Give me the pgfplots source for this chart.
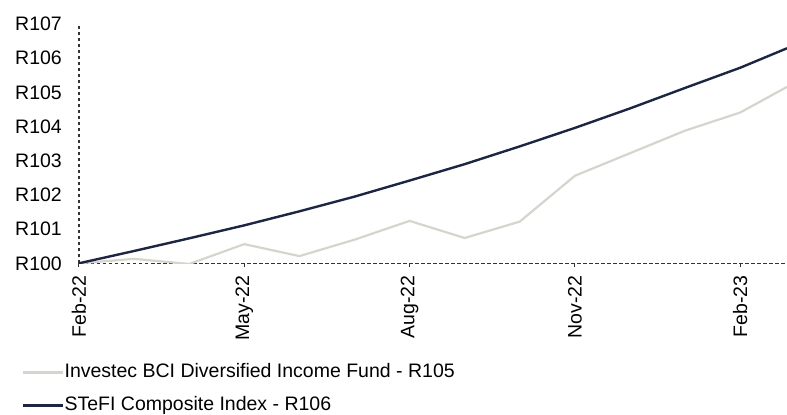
\documentclass[border=0pt]{standalone}
\usepackage{fontspec}
\setmainfont{Liberation Sans}
\usepackage{pgfplots}
\pgfplotsset{compat=1.18}
\definecolor{navy}{HTML}{1C2642}
\definecolor{lgray}{HTML}{D5D5CD}
\definecolor{axgray}{HTML}{333333}
\begin{document}
\begin{tikzpicture}
\begin{axis}[name=ax, scale only axis, width=708pt, height=239.3pt,
  xmin=0, xmax=12.85, ymin=100, ymax=107,
  axis lines*=left,
  axis line style={axgray, line width=1.3pt, dash pattern=on 3.5pt off 2.5pt},
  xtick={0,3,6,9,12}, xticklabels={Feb-22,May-22,Aug-22,Nov-22,Feb-23},
  ytick={100,101,102,103,104,105,106,107},
  yticklabels={R100,R101,R102,R103,R104,R105,R106,R107},
  tick align=outside, major tick length=4pt,
  xtick style={axgray, line width=1pt},
  ytick style={draw=none},
  tick label style={font=\fontsize{19.5}{23}\selectfont, text=black},
  xticklabel style={rotate=90, anchor=east, inner sep=0pt},
  xticklabel shift=8pt,
  yticklabel style={inner sep=0pt, anchor=east, xshift=-13pt},
  legend style={at={(axis description cs:0,0)}, anchor=north west,
    xshift=-57pt, yshift=-100pt, draw=none, fill=none, inner sep=0pt,
    font=\fontsize{19.5}{23}\selectfont, legend cell align=left, row sep=15pt,
    nodes={inner sep=0pt, text height=14pt, text depth=4pt},
    /tikz/every even column/.style={column sep=0pt}},
  legend image code/.code={\draw[#1] (0pt,0pt) -- (40pt,0pt);},
]
\addplot[lgray, line width=2.2pt] coordinates {
(0,100) (1,100.13) (2,99.98) (3,100.56) (4,100.21) (5,100.69) (6,101.24)
(7,100.74) (8,101.22) (9,102.56) (10,103.22) (11,103.88) (12,104.41) (12.85,105.16)};
\addlegendentry{Investec BCI Diversified Income Fund - R105}
\addplot[navy, line width=2.4pt] coordinates {
(0,100) (1,100.36) (2,100.73) (3,101.11) (4,101.52) (5,101.95) (6,102.42)
(7,102.9) (8,103.42) (9,103.96) (10,104.53) (11,105.13) (12,105.72) (12.85,106.29)};
\addlegendentry{STeFI Composite Index - R106}
\end{axis}
\pgfresetboundingbox
\path ([shift={(-79pt,-151pt)}]ax.south west) rectangle ([shift={(0pt,24pt)}]ax.north east);
\end{tikzpicture}
\end{document}
